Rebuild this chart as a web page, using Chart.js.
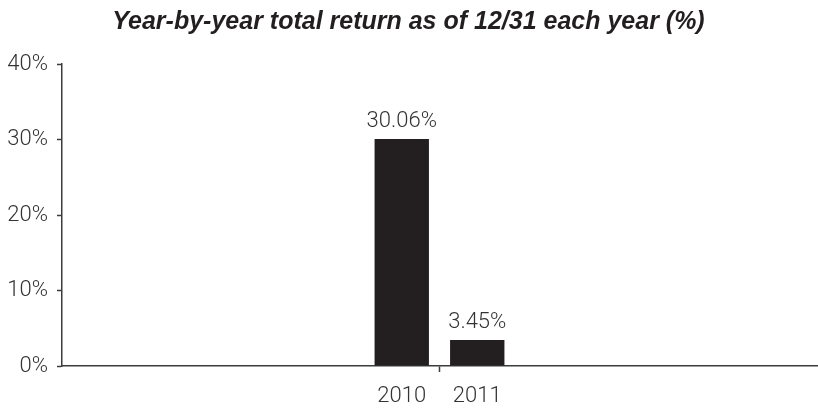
<!DOCTYPE html>
<html>
<head>
<meta charset="utf-8">
<script src="https://cdn.jsdelivr.net/npm/chart.js@4/dist/chart.umd.min.js"></script>
<style>
  html, body { margin: 0; padding: 0; background: #fff; }
  #wrap { width: 818px; height: 408px; }
</style>
</head>
<body>
<div id="wrap"><canvas id="returns"></canvas></div>
<script>
// ten yearly slots on the axis, only the last two have results so far
const years = ['', '', '', '', '2010', '2011', '', '', '', ''];
const totalReturn = [null, null, null, null, 30.06, 3.45, null, null, null, null];
const yTicks = [0, 10, 20, 30, 40];

const ink = '#231f20';
const axisColor = '#3c3c3c';
const labelFont = { family: 'Roboto, "Liberation Sans", sans-serif', size: 22, weight: 300 };

// value labels above each bar
const barValues = {
    id: 'barValues',
    afterDatasetsDraw(chart) {
        const { ctx } = chart;
        const meta = chart.getDatasetMeta(0);
        ctx.save();
        ctx.font = `${labelFont.weight} ${labelFont.size}px ${labelFont.family}`;
        ctx.fillStyle = '#333';
        ctx.textAlign = 'center';
        ctx.textBaseline = 'middle';
        meta.data.forEach((bar, i) => {
            const v = totalReturn[i];
            if (v === null) return;
            ctx.fillText(v.toFixed(2) + '%', bar.x, bar.y - 17.5);
        });
        ctx.restore();
    },
};

new Chart(document.getElementById('returns'), {
    type: 'bar',
    data: {
        labels: years,
        datasets: [{
            data: totalReturn,
            backgroundColor: ink,
            categoryPercentage: 1,
            barPercentage: 0.72,
        }],
    },
    options: {
        responsive: true,
        maintainAspectRatio: false,
        animation: false,
        layout: { padding: { top: 0, right: 1, left: 0, bottom: 0 } },
        plugins: {
            legend: { display: false },
            tooltip: { enabled: false },
            title: {
                display: true,
                text: 'Year-by-year total return as of 12/31 each year (%)',
                color: '#231f20',
                font: { family: '"Liberation Sans", Arial, sans-serif', size: 25, weight: 'bold', style: 'italic' },
                padding: { top: 7, bottom: 27 },
            },
        },
        scales: {
            x: {
                offset: true,
                border: { color: axisColor, width: 1.5 },
                grid: {
                    offset: true,
                    drawOnChartArea: false,
                    tickLength: 6,
                    tickWidth: 1.5,
                    // tick marks at the middle and the right end only
                    tickColor: (c) => (c.index === 5 || c.index === 10 ? axisColor : 'rgba(0,0,0,0)'),
                },
                ticks: {
                    autoSkip: false,
                    maxRotation: 0,
                    padding: 11,
                    color: '#333',
                    font: labelFont,
                },
                afterFit: (s) => { s.height = 42; },
            },
            y: {
                min: 0,
                max: 40,
                border: { color: axisColor, width: 1.5 },
                grid: { drawOnChartArea: false, tickLength: 5, tickWidth: 1.5, tickColor: axisColor },
                afterBuildTicks: (s) => { s.ticks = yTicks.map((v) => ({ value: v })); },
                ticks: {
                    padding: 9,
                    color: '#333',
                    font: labelFont,
                    callback: (v) => v + '%',
                },
                afterFit: (s) => { s.width = 62; },
            },
        },
    },
    plugins: [barValues],
});
</script>
</body>
</html>
